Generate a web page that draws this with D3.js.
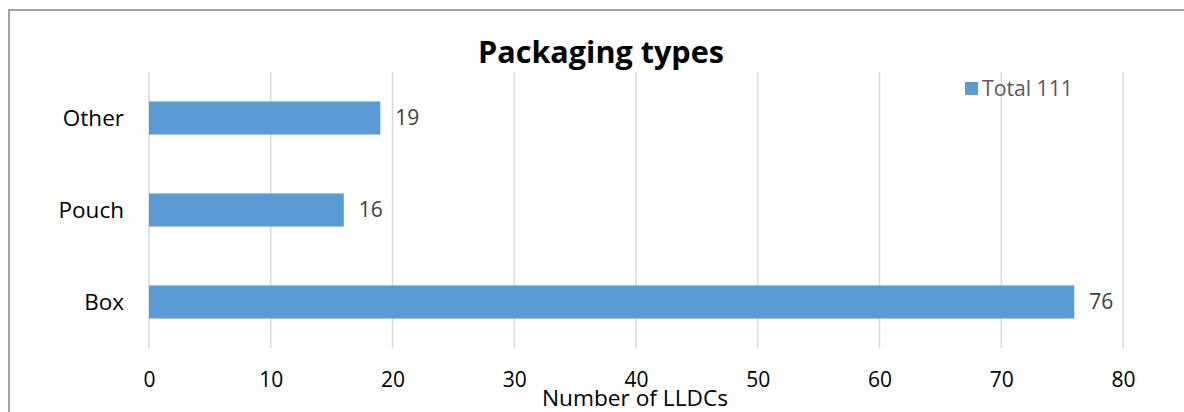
<!DOCTYPE html>
<html><head><meta charset="utf-8">
<script src="https://cdn.jsdelivr.net/npm/d3@7"></script>
<style>body{margin:0;background:#fff}svg{display:block}</style>
</head><body>
<svg id="c" width="1184" height="412"></svg>
<script>
const categories = ["Box", "Pouch", "Other"];
const values = [76, 16, 19];
const xTicks = [0, 10, 20, 30, 40, 50, 60, 70, 80];
const titleText = "Packaging types";
const legendLabel = "Total 111";
const xAxisTitle = "Number of LLDCs";

const FONT = "'Open Sans', 'Noto Sans', sans-serif";
const svg = d3.select("#c");

// frame (left + top border only)
svg.append("line").attr("x1",9).attr("x2",9).attr("y1",9).attr("y2",412).attr("stroke","#a6a6a6").attr("stroke-width",2);
svg.append("line").attr("x1",8).attr("x2",1184).attr("y1",10).attr("y2",10).attr("stroke","#a6a6a6").attr("stroke-width",2);

const x = d3.scaleLinear().domain([0, 80]).range([149, 1123]);
const y = d3.scaleBand().domain(categories.slice().reverse()).range([72, 348]).paddingInner(0.64).paddingOuter(0.32);

function fit(sel, w){
  const n = sel.node(); const cur = n.getComputedTextLength();
  const fs = parseFloat(sel.attr("font-size"));
  sel.attr("font-size", (fs*w/cur).toFixed(2));
  return sel;
}

// gridlines
svg.append("g").selectAll("line").data(xTicks).join("line")
  .attr("x1", d=>x(d)).attr("x2", d=>x(d)).attr("y1", 72).attr("y2", 348)
  .attr("stroke", "#d9d9d9").attr("stroke-width", 1.5);

// x axis labels
const xAxis = svg.append("g").attr("transform","translate(0,348)")
  .call(d3.axisBottom(x).tickValues(xTicks).tickSize(0).tickPadding(0).tickFormat(d3.format("d")));
xAxis.select(".domain").remove();
xAxis.selectAll("text").attr("font-family", FONT).attr("font-size", 21).attr("fill","#000")
  .attr("dy", null).attr("y", 39);

// y axis labels
const yAxis = svg.append("g").attr("transform","translate(149,0)")
  .call(d3.axisLeft(y).tickSize(0).tickPadding(25));
yAxis.select(".domain").remove();
yAxis.selectAll("text").attr("font-family", FONT).attr("font-size", 22.5).attr("fill","#000").attr("dy","0.35em");

// bars
svg.append("g").selectAll("rect").data(categories).join("rect")
  .attr("x", x(0)).attr("y", d=>y(d)).attr("height", y.bandwidth())
  .attr("width", (d,i)=>x(values[i]) - x(0)).attr("fill", "#5b9bd5");

// data labels
svg.append("g").selectAll("text").data(categories).join("text")
  .attr("x", (d,i)=>x(values[i]) + 15).attr("y", d=>y(d)+y.bandwidth()/2)
  .attr("dy","0.35em").attr("font-family", FONT).attr("font-size", 21).attr("fill","#404040")
  .text((d,i)=>values[i]);

// title
const t = svg.append("text").attr("x", 601).attr("y", 63).attr("text-anchor","middle")
  .attr("font-family", FONT).attr("font-weight","bold").attr("font-size", 28).attr("fill","#000").text(titleText);
fit(t, 246);

// legend
svg.append("rect").attr("x",965).attr("y",82).attr("width",13).attr("height",13).attr("fill","#5b9bd5");
const lt = svg.append("text").attr("x",982).attr("y",96).attr("font-family", FONT).attr("font-size",19).attr("fill","#595959").text(legendLabel);
fit(lt, 91);

// axis title
const at = svg.append("text").attr("x", 635).attr("y", 406).attr("text-anchor","middle")
  .attr("font-family", FONT).attr("font-size", 20).attr("fill","#000").text(xAxisTitle);
fit(at, 186);
</script>
</body></html>
